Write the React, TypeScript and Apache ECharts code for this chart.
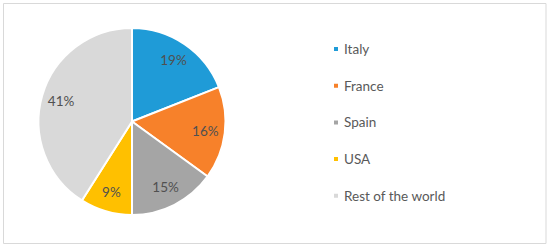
import React, { useEffect, useRef } from "react";
import * as echarts from "echarts";

const categories = ["Italy", "France", "Spain", "USA", "Rest of the world"];
const values = [19, 16, 15, 9, 41];
const colors = ["#1f9bd7", "#f7812a", "#a5a5a5", "#ffc000", "#d9d9d9"];

const CX = 132;
const CY = 121.5;
const R = 93.5;
const LABEL_R = 0.79;

export default function App() {
  const ref = useRef<HTMLDivElement>(null);
  useEffect(() => {
    if (!ref.current) return;
    const chart = echarts.init(ref.current, null, { renderer: "svg" });
    const total = values.reduce((a, b) => a + b, 0);
    const mids: number[] = [];
    let acc = 0;
    values.forEach((v) => {
      mids.push(((acc + v / 2) / total) * Math.PI * 2);
      acc += v;
    });
    chart.setOption({
      animation: false,
      backgroundColor: "#ffffff",
      graphic: [
        {
          type: "rect",
          shape: { x: 3.5, y: 3.5, width: 542.5, height: 240 },
          style: { fill: "none", stroke: "#d9d9d9", lineWidth: 1 },
          silent: true,
        },
      ],
      legend: {
        orient: "vertical",
        left: 332,
        top: 41,
        padding: 0,
        itemWidth: 6,
        itemHeight: 6,
        itemGap: 20.7,
        icon: "rect",
        data: categories,
        textStyle: {
          fontFamily: "Lato",
          fontSize: 13.5,
          color: "#595959",
          lineHeight: 16,
        },
      },
      series: [
        {
          type: "pie",
          center: [CX, CY],
          radius: [0, R],
          startAngle: 90,
          clockwise: true,
          data: categories.map((c, i) => ({
            name: c,
            value: values[i],
            itemStyle: { color: colors[i] },
          })),
          itemStyle: { borderColor: "#ffffff", borderWidth: 2 },
          label: {
            show: true,
            position: "inside",
            formatter: (p: any) => `${p.value}%`,
            fontFamily: "Lato",
            fontSize: 13.5,
            color: "#505050",
          },
          labelLine: { show: false },
          labelLayout: (params: any) => {
            const a = mids[params.dataIndex];
            return {
              x: CX + Math.sin(a) * R * LABEL_R,
              y: CY - Math.cos(a) * R * LABEL_R,
              align: "center",
              verticalAlign: "middle",
            };
          },
          emphasis: { disabled: true },
        },
      ],
    });
    return () => chart.dispose();
  }, []);
  return (
    <div
      ref={ref}
      style={{ position: "fixed", left: 0, top: 0, width: 550, height: 249, background: "#fff" }}
    />
  );
}
